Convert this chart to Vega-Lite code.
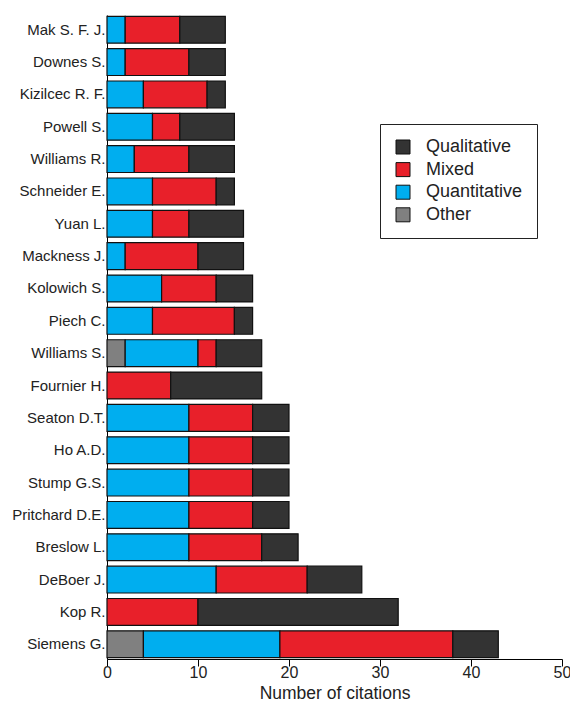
{
  "$schema": "https://vega.github.io/schema/vega-lite/v6.json",
  "width": 455,
  "height": 644,
  "autosize": {"type": "none"},
  "padding": {"left": 107, "top": 15, "right": 8, "bottom": 43},
  "background": "white",
  "config": {
    "font": "Liberation Sans",
    "view": {"stroke": null}
  },
  "data": {
    "values": [
      {"author": "Mak S. F. J.", "type": "Quantitative", "ord": 2, "n": 2},
      {"author": "Mak S. F. J.", "type": "Mixed", "ord": 3, "n": 6},
      {"author": "Mak S. F. J.", "type": "Qualitative", "ord": 4, "n": 5},
      {"author": "Downes S.", "type": "Quantitative", "ord": 2, "n": 2},
      {"author": "Downes S.", "type": "Mixed", "ord": 3, "n": 7},
      {"author": "Downes S.", "type": "Qualitative", "ord": 4, "n": 4},
      {"author": "Kizilcec R. F.", "type": "Quantitative", "ord": 2, "n": 4},
      {"author": "Kizilcec R. F.", "type": "Mixed", "ord": 3, "n": 7},
      {"author": "Kizilcec R. F.", "type": "Qualitative", "ord": 4, "n": 2},
      {"author": "Powell S.", "type": "Quantitative", "ord": 2, "n": 5},
      {"author": "Powell S.", "type": "Mixed", "ord": 3, "n": 3},
      {"author": "Powell S.", "type": "Qualitative", "ord": 4, "n": 6},
      {"author": "Williams R.", "type": "Quantitative", "ord": 2, "n": 3},
      {"author": "Williams R.", "type": "Mixed", "ord": 3, "n": 6},
      {"author": "Williams R.", "type": "Qualitative", "ord": 4, "n": 5},
      {"author": "Schneider E.", "type": "Quantitative", "ord": 2, "n": 5},
      {"author": "Schneider E.", "type": "Mixed", "ord": 3, "n": 7},
      {"author": "Schneider E.", "type": "Qualitative", "ord": 4, "n": 2},
      {"author": "Yuan L.", "type": "Quantitative", "ord": 2, "n": 5},
      {"author": "Yuan L.", "type": "Mixed", "ord": 3, "n": 4},
      {"author": "Yuan L.", "type": "Qualitative", "ord": 4, "n": 6},
      {"author": "Mackness J.", "type": "Quantitative", "ord": 2, "n": 2},
      {"author": "Mackness J.", "type": "Mixed", "ord": 3, "n": 8},
      {"author": "Mackness J.", "type": "Qualitative", "ord": 4, "n": 5},
      {"author": "Kolowich S.", "type": "Quantitative", "ord": 2, "n": 6},
      {"author": "Kolowich S.", "type": "Mixed", "ord": 3, "n": 6},
      {"author": "Kolowich S.", "type": "Qualitative", "ord": 4, "n": 4},
      {"author": "Piech C.", "type": "Quantitative", "ord": 2, "n": 5},
      {"author": "Piech C.", "type": "Mixed", "ord": 3, "n": 9},
      {"author": "Piech C.", "type": "Qualitative", "ord": 4, "n": 2},
      {"author": "Williams S.", "type": "Other", "ord": 1, "n": 2},
      {"author": "Williams S.", "type": "Quantitative", "ord": 2, "n": 8},
      {"author": "Williams S.", "type": "Mixed", "ord": 3, "n": 2},
      {"author": "Williams S.", "type": "Qualitative", "ord": 4, "n": 5},
      {"author": "Fournier H.", "type": "Mixed", "ord": 3, "n": 7},
      {"author": "Fournier H.", "type": "Qualitative", "ord": 4, "n": 10},
      {"author": "Seaton D.T.", "type": "Quantitative", "ord": 2, "n": 9},
      {"author": "Seaton D.T.", "type": "Mixed", "ord": 3, "n": 7},
      {"author": "Seaton D.T.", "type": "Qualitative", "ord": 4, "n": 4},
      {"author": "Ho A.D.", "type": "Quantitative", "ord": 2, "n": 9},
      {"author": "Ho A.D.", "type": "Mixed", "ord": 3, "n": 7},
      {"author": "Ho A.D.", "type": "Qualitative", "ord": 4, "n": 4},
      {"author": "Stump G.S.", "type": "Quantitative", "ord": 2, "n": 9},
      {"author": "Stump G.S.", "type": "Mixed", "ord": 3, "n": 7},
      {"author": "Stump G.S.", "type": "Qualitative", "ord": 4, "n": 4},
      {"author": "Pritchard D.E.", "type": "Quantitative", "ord": 2, "n": 9},
      {"author": "Pritchard D.E.", "type": "Mixed", "ord": 3, "n": 7},
      {"author": "Pritchard D.E.", "type": "Qualitative", "ord": 4, "n": 4},
      {"author": "Breslow L.", "type": "Quantitative", "ord": 2, "n": 9},
      {"author": "Breslow L.", "type": "Mixed", "ord": 3, "n": 8},
      {"author": "Breslow L.", "type": "Qualitative", "ord": 4, "n": 4},
      {"author": "DeBoer J.", "type": "Quantitative", "ord": 2, "n": 12},
      {"author": "DeBoer J.", "type": "Mixed", "ord": 3, "n": 10},
      {"author": "DeBoer J.", "type": "Qualitative", "ord": 4, "n": 6},
      {"author": "Kop R.", "type": "Mixed", "ord": 3, "n": 10},
      {"author": "Kop R.", "type": "Qualitative", "ord": 4, "n": 22},
      {"author": "Siemens G.", "type": "Other", "ord": 1, "n": 4},
      {"author": "Siemens G.", "type": "Quantitative", "ord": 2, "n": 15},
      {"author": "Siemens G.", "type": "Mixed", "ord": 3, "n": 19},
      {"author": "Siemens G.", "type": "Qualitative", "ord": 4, "n": 5}
    ]
  },
  "mark": {"type": "bar", "stroke": "#111111", "strokeWidth": 1.2},
  "encoding": {
    "y": {
      "field": "author",
      "type": "nominal",
      "sort": ["Mak S. F. J.", "Downes S.", "Kizilcec R. F.", "Powell S.", "Williams R.", "Schneider E.", "Yuan L.", "Mackness J.", "Kolowich S.", "Piech C.", "Williams S.", "Fournier H.", "Seaton D.T.", "Ho A.D.", "Stump G.S.", "Pritchard D.E.", "Breslow L.", "DeBoer J.", "Kop R.", "Siemens G."],
      "scale": {"paddingInner": 0.17, "paddingOuter": 0.04},
      "axis": {
        "title": null,
        "ticks": false,
        "domain": true,
        "domainColor": "black",
        "domainWidth": 1,
        "labelFontSize": 15,
        "labelColor": "#222222",
        "labelPadding": 2
      }
    },
    "x": {
      "field": "n",
      "type": "quantitative",
      "stack": "zero",
      "scale": {"domain": [0, 50]},
      "axis": {
        "title": "Number of citations",
        "titleFontSize": 17.5,
        "titleFontWeight": "normal",
        "titleColor": "#222222",
        "titlePadding": 4,
        "values": [0, 10, 20, 30, 40, 50],
        "grid": false,
        "domainColor": "black",
        "tickColor": "black",
        "tickSize": 7,
        "labelFontSize": 16,
        "labelColor": "#222222",
        "labelPadding": -2,
        "labelFlush": false
      }
    },
    "color": {
      "field": "type",
      "type": "nominal",
      "scale": {
        "domain": ["Qualitative", "Mixed", "Quantitative", "Other"],
        "range": ["#333333", "#e8202a", "#00aeef", "#808080"]
      },
      "legend": {
        "title": null,
        "orient": "none",
        "legendX": 273,
        "legendY": 109,
        "strokeColor": "#222222",
        "padding": 14,
        "symbolType": "square",
        "symbolSize": 196,
        "symbolStrokeColor": "#111111",
        "symbolStrokeWidth": 1,
        "labelFontSize": 18,
        "labelColor": "#222222",
        "labelOffset": 14,
        "rowPadding": 4.6
      }
    },
    "order": {"field": "ord", "type": "quantitative"}
  }
}
